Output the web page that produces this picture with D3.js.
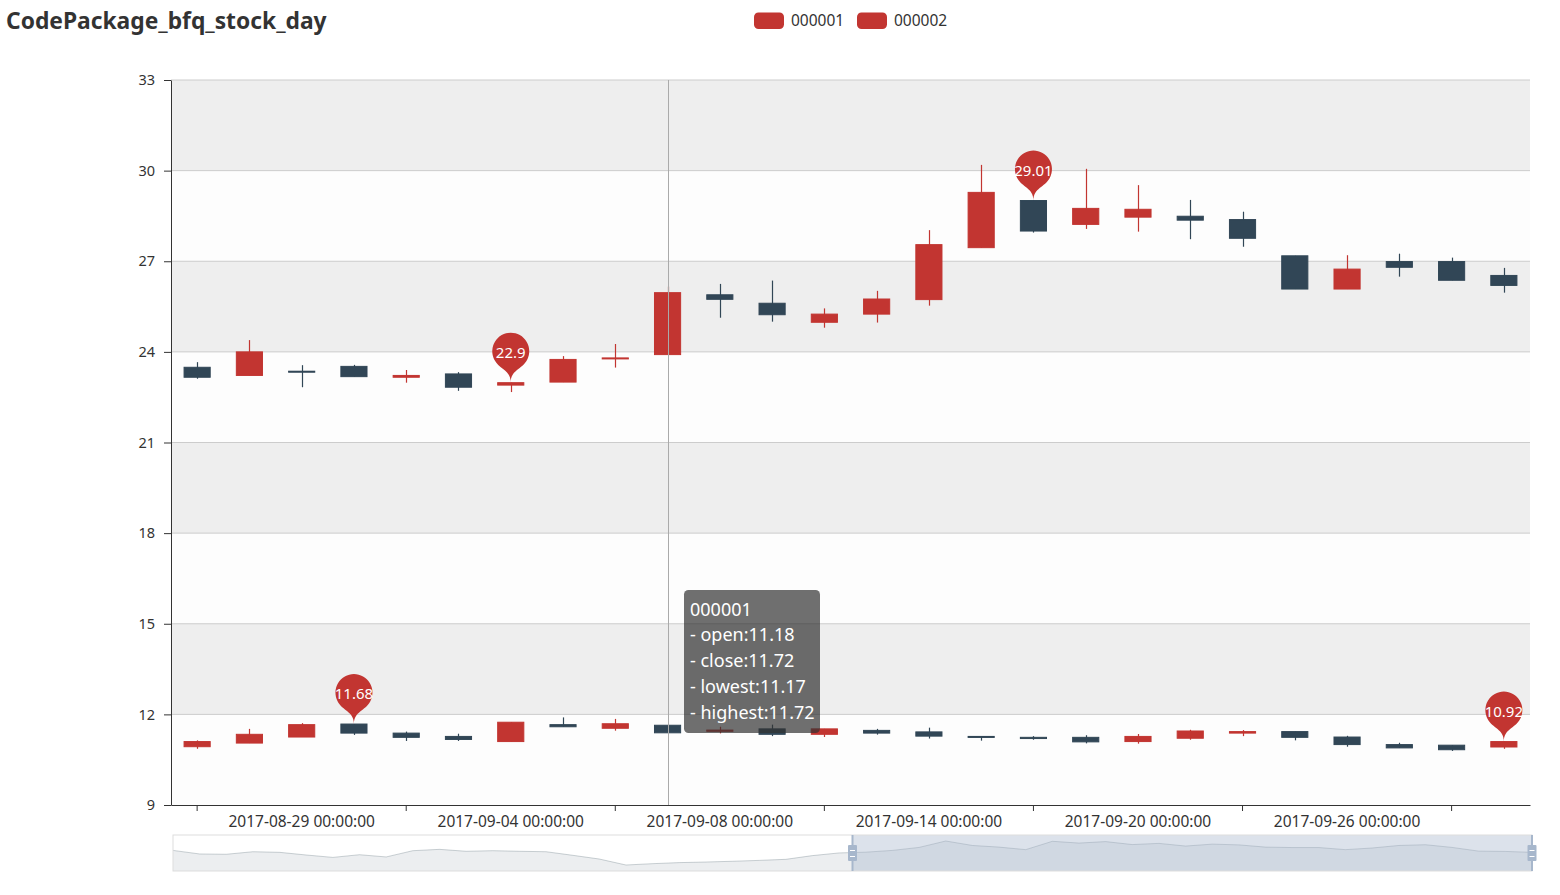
<!DOCTYPE html>
<html>
<head>
<meta charset="utf-8">
<script src="https://cdn.jsdelivr.net/npm/d3@7"></script>
<style>
  body { margin: 0; background: #fff; }
  svg { display: block; font-family: "Noto Sans", sans-serif; }
</style>
</head>
<body>
<div id="chart"></div>
<script>
const FRAME_WIDTH = 1560;
const FRAME_HEIGHT = 895;
const GRID = {left: 171, right: 1530, top: 80, bottom: 805};
const SLIDER = {left: 173, right: 1532, top: 835, bottom: 871};
const UP_COLOR = "#c23531";
const DOWN_COLOR = "#314656";

// trading days shown in the window
const dates = ["2017-08-25 00:00:00", "2017-08-28 00:00:00", "2017-08-29 00:00:00", "2017-08-30 00:00:00",
  "2017-08-31 00:00:00", "2017-09-01 00:00:00", "2017-09-04 00:00:00", "2017-09-05 00:00:00",
  "2017-09-06 00:00:00", "2017-09-07 00:00:00", "2017-09-08 00:00:00", "2017-09-11 00:00:00",
  "2017-09-12 00:00:00", "2017-09-13 00:00:00", "2017-09-14 00:00:00", "2017-09-15 00:00:00",
  "2017-09-18 00:00:00", "2017-09-19 00:00:00", "2017-09-20 00:00:00", "2017-09-21 00:00:00",
  "2017-09-22 00:00:00", "2017-09-25 00:00:00", "2017-09-26 00:00:00", "2017-09-27 00:00:00",
  "2017-09-28 00:00:00", "2017-09-29 00:00:00"];

// 000001
const open000001  = [10.93, 11.05, 11.25, 11.68, 11.38, 11.27, 11.10, 11.66, 11.54, 11.64, 11.44, 11.52, 11.34,
                     11.47, 11.42, 11.27, 11.24, 11.24, 11.10, 11.21, 11.38, 11.43, 11.25, 11.00, 10.98, 10.92];
const close000001 = [11.10, 11.34, 11.66, 11.38, 11.24, 11.17, 11.74, 11.59, 11.69, 11.39, 11.48, 11.34, 11.52,
                     11.38, 11.28, 11.24, 11.20, 11.09, 11.27, 11.45, 11.43, 11.24, 11.00, 10.89, 10.83, 11.10];
const low000001   = [10.86, 11.05, 11.25, 11.32, 11.12, 11.12, 11.10, 11.59, 11.46, 11.39, 11.37, 11.28, 11.25,
                     11.33, 11.20, 11.13, 11.16, 11.04, 11.03, 11.16, 11.28, 11.14, 10.93, 10.89, 10.79, 10.86];
const high000001  = [11.14, 11.52, 11.71, 11.68, 11.43, 11.36, 11.74, 11.90, 11.85, 11.64, 11.59, 11.66, 11.52,
                     11.52, 11.56, 11.27, 11.28, 11.31, 11.35, 11.49, 11.48, 11.43, 11.29, 11.06, 10.98, 11.10];

// 000002
const open000002  = [23.49, 23.22, 23.36, 23.52, 23.16, 23.27, 22.90, 23.00, 23.77, 23.91, 25.89, 25.61, 24.98,
                     25.25, 25.73, 27.45, 29.01, 28.22, 28.46, 28.49, 28.38, 27.18, 26.08, 26.99, 26.99, 26.53];
const close000002 = [23.16, 24.00, 23.33, 23.18, 23.22, 22.83, 22.98, 23.75, 23.80, 25.96, 25.74, 25.23, 25.25,
                     25.75, 27.55, 29.28, 28.00, 28.75, 28.72, 28.36, 27.76, 26.08, 26.74, 26.80, 26.37, 26.20];
const low000002   = [23.11, 23.22, 22.83, 23.18, 22.98, 22.71, 22.67, 23.00, 23.48, 23.91, 25.13, 25.00, 24.80,
                     24.97, 25.53, 27.45, 27.95, 28.07, 27.98, 27.73, 27.48, 26.08, 26.08, 26.49, 26.37, 25.96];
const high000002  = [23.66, 24.39, 23.56, 23.57, 23.40, 23.33, 22.98, 23.86, 24.26, 26.16, 26.25, 26.36, 25.44,
                     26.02, 28.03, 30.19, 29.01, 30.06, 29.52, 29.03, 28.64, 27.18, 27.20, 27.25, 27.12, 26.78];

// earlier opens of 000001, only seen in the zoom slider shadow
const historyOpen000001 = [11.05, 10.81, 10.79, 10.96, 10.92, 10.74, 10.58, 10.76, 10.61, 11.03, 11.12, 10.99, 11.03,
                           10.99, 10.96, 10.72, 10.47, 10.07, 10.16, 10.23, 10.27, 10.32, 10.38, 10.45, 10.70, 10.88];

const yTicks = [9, 12, 15, 18, 21, 24, 27, 30, 33];
const xTickIdx = [0, 4, 8, 12, 16, 20, 24];
const xLabelIdx = [2, 6, 10, 14, 18, 22];
const seriesNames = ["000001", "000002"];

// hovered candle and its tooltip text
const hoverIdx = 9;
const tooltipLines = ["000001", "- open:11.18", "- close:11.72", "- lowest:11.17", "- highest:11.72"];

const series = [
  {name: "000001", open: open000001, close: close000001, low: low000001, high: high000001},
  {name: "000002", open: open000002, close: close000002, low: low000002, high: high000002}
];

const FRAME = d3.select("#chart")
                .append("svg")
                  .attr("width", FRAME_WIDTH)
                  .attr("height", FRAME_HEIGHT);

const X_SCALE = d3.scaleBand()
        .domain(dates)
        .range([GRID.left, GRID.right]);
const cx = (i) => X_SCALE(dates[i]) + X_SCALE.bandwidth() / 2;

const Y_SCALE = d3.scaleLinear()
        .domain([9, 33])
        .range([GRID.bottom, GRID.top]);

// split areas, alternating from the bottom
FRAME.append("g").selectAll("rect")
    .data(d3.pairs(yTicks))
    .enter()
    .append("rect")
      .attr("x", GRID.left)
      .attr("y", (d) => Y_SCALE(d[1]))
      .attr("width", GRID.right - GRID.left)
      .attr("height", (d) => Y_SCALE(d[0]) - Y_SCALE(d[1]))
      .attr("fill", (d, i) => i % 2 == 0 ? "rgba(250,250,250,0.3)" : "rgba(200,200,200,0.3)");

// horizontal grid lines
FRAME.append("g").selectAll("line")
    .data(yTicks.slice(1))
    .enter()
    .append("line")
      .attr("x1", GRID.left)
      .attr("x2", GRID.right)
      .attr("y1", (d) => Y_SCALE(d))
      .attr("y2", (d) => Y_SCALE(d))
      .attr("stroke", "#ccc");

// y axis
const yAxis = FRAME.append("g")
    .attr("transform", "translate(" + GRID.left + ",0)")
    .call(d3.axisLeft(Y_SCALE).tickValues(yTicks).tickSize(7).tickPadding(9).tickSizeOuter(0));
yAxis.select(".domain").attr("stroke", "#333");
yAxis.selectAll(".tick line").attr("stroke", "#333");
yAxis.selectAll(".tick text")
    .attr("fill", "#333")
    .attr("font-size", "14.5px")
    .attr("font-family", "Noto Sans, sans-serif");

// x axis: tick marks every 4th day, labels in between
const xAxis = FRAME.append("g")
    .attr("transform", "translate(0," + GRID.bottom + ")")
    .call(d3.axisBottom(X_SCALE)
            .tickValues(xTickIdx.map((i) => dates[i]))
            .tickFormat("")
            .tickSize(6)
            .tickSizeOuter(0));
xAxis.select(".domain").attr("stroke", "#333");
xAxis.selectAll(".tick line").attr("stroke", "#333");

FRAME.append("g").selectAll("text")
    .data(xLabelIdx)
    .enter()
    .append("text")
      .attr("x", (i) => cx(i))
      .attr("y", GRID.bottom + 22)
      .attr("text-anchor", "middle")
      .attr("font-size", "15.5px")
      .attr("fill", "#333")
      .text((i) => dates[i]);

// candles
const boxW = X_SCALE.bandwidth() * 0.5;
series.forEach((s) => {
    const g = FRAME.append("g");
    const idx = d3.range(dates.length);
    const color = (i) => s.close[i] > s.open[i] ? UP_COLOR : DOWN_COLOR;

    g.selectAll("line")
        .data(idx)
        .enter()
        .append("line")
          .attr("x1", (i) => Math.round(cx(i)) + 0.5)
          .attr("x2", (i) => Math.round(cx(i)) + 0.5)
          .attr("y1", (i) => Y_SCALE(s.high[i]))
          .attr("y2", (i) => Y_SCALE(s.low[i]))
          .attr("stroke", color)
          .attr("stroke-width", 1.2);

    g.selectAll("rect")
        .data(idx)
        .enter()
        .append("rect")
          .attr("x", (i) => cx(i) - boxW / 2)
          .attr("y", (i) => Y_SCALE(Math.max(s.open[i], s.close[i])))
          .attr("width", boxW)
          .attr("height", (i) => Math.max(1, Math.abs(Y_SCALE(s.open[i]) - Y_SCALE(s.close[i]))))
          .attr("fill", color)
          .attr("stroke", color)
          .attr("stroke-width", 1);
});

// axis pointer of the hovered day
FRAME.append("line")
    .attr("x1", Math.round(cx(hoverIdx)) + 0.5)
    .attr("x2", Math.round(cx(hoverIdx)) + 0.5)
    .attr("y1", GRID.top)
    .attr("y2", GRID.bottom)
    .attr("stroke", "#aaa");

// pin marker path (tip at x,y)
function pinPath(x, y) {
    const w = 37, h = 58.5;
    const r = w / 2;
    const dy = r * r / (h - r);
    const cy = y - h + r + dy;
    const angle = Math.asin(dy / r);
    const dx = Math.cos(angle) * r;
    const tanX = Math.sin(angle);
    const tanY = Math.cos(angle);
    const cpLen = r * 0.6;
    const cpLen2 = r * 0.7;
    const p = d3.path();
    p.moveTo(x - dx, cy + dy);
    p.arc(x, cy, r, Math.PI - angle, Math.PI * 2 + angle);
    p.bezierCurveTo(x + dx - tanX * cpLen, cy + dy + tanY * cpLen, x, y - cpLen2, x, y);
    p.bezierCurveTo(x, y - cpLen2, x - dx + tanX * cpLen, cy + dy + tanY * cpLen, x - dx, cy + dy);
    p.closePath();
    return p.toString();
}

// max / min markers on the open value
series.forEach((s) => {
    const marks = [d3.maxIndex(s.open), d3.minIndex(s.open)];
    const g = FRAME.append("g");
    marks.forEach((i) => {
        const tipY = Y_SCALE(Math.max(s.open[i], s.close[i]));
        g.append("path")
            .attr("d", pinPath(cx(i), tipY))
            .attr("fill", UP_COLOR);
        g.append("text")
            .attr("x", cx(i))
            .attr("y", tipY - 31)
            .attr("text-anchor", "middle")
            .attr("dominant-baseline", "central")
            .attr("font-size", "15px")
            .attr("fill", "#fff")
            .text(s.open[i]);
    });
});

// legend
const legend = FRAME.append("g").selectAll("g")
    .data(seriesNames)
    .enter()
    .append("g")
      .attr("transform", (d, i) => "translate(" + (754 + i * 103) + ",0)");
legend.append("rect")
    .attr("x", 0)
    .attr("y", 12.5)
    .attr("width", 30)
    .attr("height", 16.5)
    .attr("rx", 4.5)
    .attr("fill", UP_COLOR);
legend.append("text")
    .attr("x", 37)
    .attr("y", 25.5)
    .attr("font-size", "15.5px")
    .attr("fill", "#333")
    .text((d) => d);

// title
FRAME.append("text")
    .attr("x", 6)
    .attr("y", 28.5)
    .attr("font-size", "22.8px")
    .attr("font-weight", "bold")
    .attr("fill", "#333")
    .text("CodePackage_bfq_stock_day");

// data zoom slider with shadow of the full 000001 open series
const shadowData = historyOpen000001.concat(open000001);
const startIdx = historyOpen000001.length;
const SX = d3.scaleLinear()
        .domain([0, shadowData.length - 1])
        .range([SLIDER.left, SLIDER.right]);
const ext = d3.extent(shadowData);
const pad = (ext[1] - ext[0]) * 0.25;
const SY = d3.scaleLinear()
        .domain([ext[0] - pad, ext[1] + pad])
        .range([SLIDER.bottom, SLIDER.top]);

FRAME.append("path")
    .datum(shadowData)
    .attr("d", d3.area().x((d, i) => SX(i)).y0(SLIDER.bottom).y1((d) => SY(d)))
    .attr("fill", "rgba(47,69,84,0.09)");
FRAME.append("path")
    .datum(shadowData)
    .attr("d", d3.line().x((d, i) => SX(i)).y((d) => SY(d)))
    .attr("fill", "none")
    .attr("stroke", "rgba(47,69,84,0.3)")
    .attr("stroke-width", 0.8);

const hx0 = SX(startIdx - 0.5);
const hx1 = SLIDER.right;
FRAME.append("rect")
    .attr("x", hx0)
    .attr("y", SLIDER.top)
    .attr("width", hx1 - hx0)
    .attr("height", SLIDER.bottom - SLIDER.top)
    .attr("fill", "rgba(167,183,204,0.4)");
FRAME.append("rect")
    .attr("x", SLIDER.left)
    .attr("y", SLIDER.top)
    .attr("width", SLIDER.right - SLIDER.left)
    .attr("height", SLIDER.bottom - SLIDER.top)
    .attr("fill", "none")
    .attr("stroke", "#ddd");

const handles = FRAME.append("g").selectAll("g")
    .data([hx0, hx1])
    .enter()
    .append("g")
      .attr("transform", (d) => "translate(" + d + ",0)");
handles.append("rect")
    .attr("x", -1)
    .attr("y", SLIDER.top)
    .attr("width", 2)
    .attr("height", SLIDER.bottom - SLIDER.top)
    .attr("fill", "#a7b7cc");
handles.append("rect")
    .attr("x", -4.5)
    .attr("y", 845)
    .attr("width", 9)
    .attr("height", 16)
    .attr("rx", 1)
    .attr("fill", "#a7b7cc");
handles.selectAll("line")
    .data([850.5, 856.5])
    .enter()
    .append("line")
      .attr("x1", -2.5)
      .attr("x2", 2.5)
      .attr("y1", (d) => d)
      .attr("y2", (d) => d)
      .attr("stroke", "#fff");

// tooltip
const tip = FRAME.append("g").attr("transform", "translate(684,590)");
tip.append("rect")
    .attr("width", 136)
    .attr("height", 143)
    .attr("rx", 4.5)
    .attr("fill", "rgba(50,50,50,0.7)");
tip.selectAll("text")
    .data(tooltipLines)
    .enter()
    .append("text")
      .attr("x", 6)
      .attr("y", (d, i) => 25.5 + i * 25.9)
      .attr("font-size", "18px")
      .attr("fill", "#fff")
      .text((d) => d);
</script>
</body>
</html>
